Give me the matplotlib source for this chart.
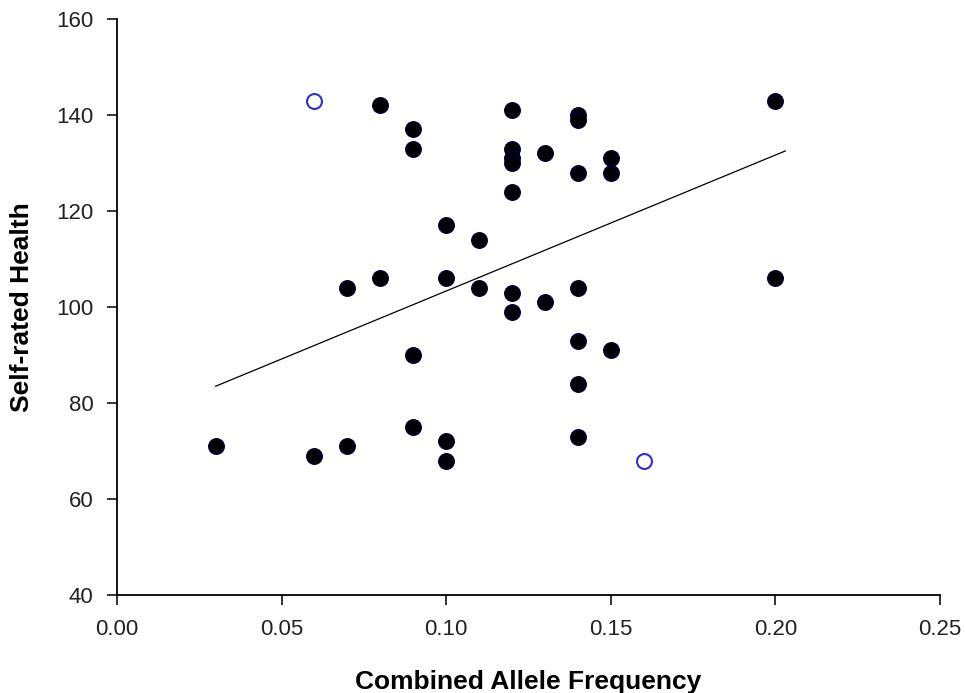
import numpy as np
import matplotlib
matplotlib.use("Agg")
import matplotlib.pyplot as plt

plt.rcParams['font.family'] = ['Liberation Sans', 'DejaVu Sans']

# filled points: combined allele frequency vs self-rated health
freq = [0.03, 0.06, 0.07, 0.07, 0.08, 0.08, 0.09, 0.09, 0.09, 0.09,
        0.10, 0.10, 0.10, 0.10, 0.11, 0.11,
        0.12, 0.12, 0.12, 0.12, 0.12, 0.12, 0.12,
        0.13, 0.13,
        0.14, 0.14, 0.14, 0.14, 0.14, 0.14, 0.14,
        0.15, 0.15, 0.15, 0.20, 0.20]
health = [71, 69, 104, 71, 142, 106, 137, 133, 90, 75,
          117, 106, 72, 68, 114, 104,
          141, 133, 131, 130, 124, 103, 99,
          132, 101,
          140, 139, 128, 104, 93, 84, 73,
          131, 128, 91, 143, 106]

# open points (outliers)
out_freq = [0.06, 0.16]
out_health = [143, 68]

# regression line end points
line_x = [0.03, 0.203]
line_y = [83.5, 132.5]

fig = plt.figure(figsize=(9.65, 6.93), dpi=100)
ax = fig.add_axes([0.1212, 0.1414, 0.8528, 0.8312])

ax.plot(line_x, line_y, color='black', linewidth=0.9)
ax.scatter(freq, health, s=125, facecolor='black', edgecolor='#000040', linewidth=1, zorder=3)
ax.scatter(out_freq, out_health, s=115, facecolor='white', edgecolor='#3030cc', linewidth=1.5, zorder=3)

ax.set_xlim(0, 0.25)
ax.set_ylim(40, 160)
ax.set_xticks(np.arange(0, 0.26, 0.05))
ax.set_xticklabels(['0.00', '0.05', '0.10', '0.15', '0.20', '0.25'])
ax.set_yticks(range(40, 161, 20))

for side in ['top', 'right']:
    ax.spines[side].set_visible(False)
for side in ['left', 'bottom']:
    ax.spines[side].set_linewidth(1.3)
ax.tick_params(direction='out', length=7, width=1.3, labelsize=16, colors='#222222')
ax.tick_params(axis='x', pad=10)
ax.tick_params(axis='y', pad=10)

ax.set_xlabel('Combined Allele Frequency', fontsize=19, fontweight='bold', labelpad=22)
ax.set_ylabel('Self-rated Health', fontsize=19, fontweight='bold', labelpad=16)

fig.savefig('out.png', dpi=100)
